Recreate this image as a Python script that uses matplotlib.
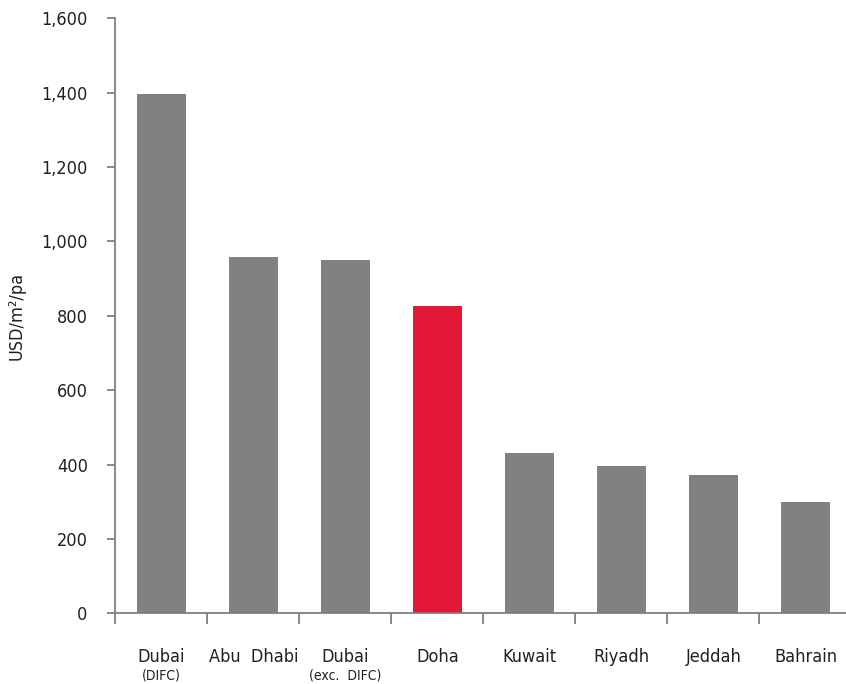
import numpy as np
import matplotlib
matplotlib.use("Agg")
import matplotlib.pyplot as plt
from matplotlib import font_manager

# ───────── data ─────────
cities = ['Dubai', 'Abu  Dhabi', 'Dubai', 'Doha', 'Kuwait', 'Riyadh', 'Jeddah', 'Bahrain']
notes = ['(DIFC)', '', '(exc.  DIFC)', '', '', '', '', '']
rents = [1395, 958, 950, 825, 430, 396, 372, 300]
highlight = 'Doha'

GREY = '#808183'
RED = '#E31837'
TEXT = '#231F20'
AXIS = '#7F7F7F'

# narrow face if there is one, otherwise condensed DejaVu
installed = {f.name for f in font_manager.fontManager.ttflist}
if 'Liberation Sans Narrow' in installed:
    plt.rcParams['font.family'] = ['Liberation Sans Narrow', 'DejaVu Sans']
else:
    plt.rcParams['font.family'] = ['DejaVu Sans']
    plt.rcParams['font.stretch'] = 'condensed'

fig = plt.figure(figsize=(8.46, 6.84), dpi=100)
ax = fig.add_axes([0.1365, 0.1034, 0.870, 0.8699])

x = np.arange(len(cities))
colors = [RED if c == highlight else GREY for c in cities]
ax.bar(x, rents, width=0.53, color=colors, zorder=2)

ax.set_xlim(-0.5, len(cities) - 0.5)
ax.set_ylim(0, 1600)
ax.set_yticks(np.arange(0, 1601, 200))
ax.set_yticklabels([f'{v:,}' for v in range(0, 1601, 200)])

# category labels sit between minor ticks
ax.set_xticks(x)
ax.set_xticklabels(cities)
ax.set_xticks(np.arange(-0.5, len(cities), 1.0), minor=True)
ax.tick_params(axis='x', which='major', length=0, pad=25, labelsize=13, labelcolor=TEXT)
ax.tick_params(axis='x', which='minor', length=8, width=1.3, color=AXIS, direction='out')
ax.tick_params(axis='y', length=6, width=1.3, color=AXIS, pad=14, labelsize=13, labelcolor=TEXT)

for i, note in enumerate(notes):
    if note:
        ax.annotate(note, xy=(i, 0), xycoords=('data', 'axes fraction'),
                    xytext=(0, -39.5), textcoords='offset points',
                    ha='center', va='top', fontsize=10, color=TEXT)

ax.set_ylabel('USD/m²/pa', fontsize=13, color=TEXT, labelpad=11)

for side in ['top', 'right']:
    ax.spines[side].set_visible(False)
for side in ['left', 'bottom']:
    ax.spines[side].set_color(AXIS)
    ax.spines[side].set_linewidth(1.3)

fig.savefig('out.png', dpi=100)
